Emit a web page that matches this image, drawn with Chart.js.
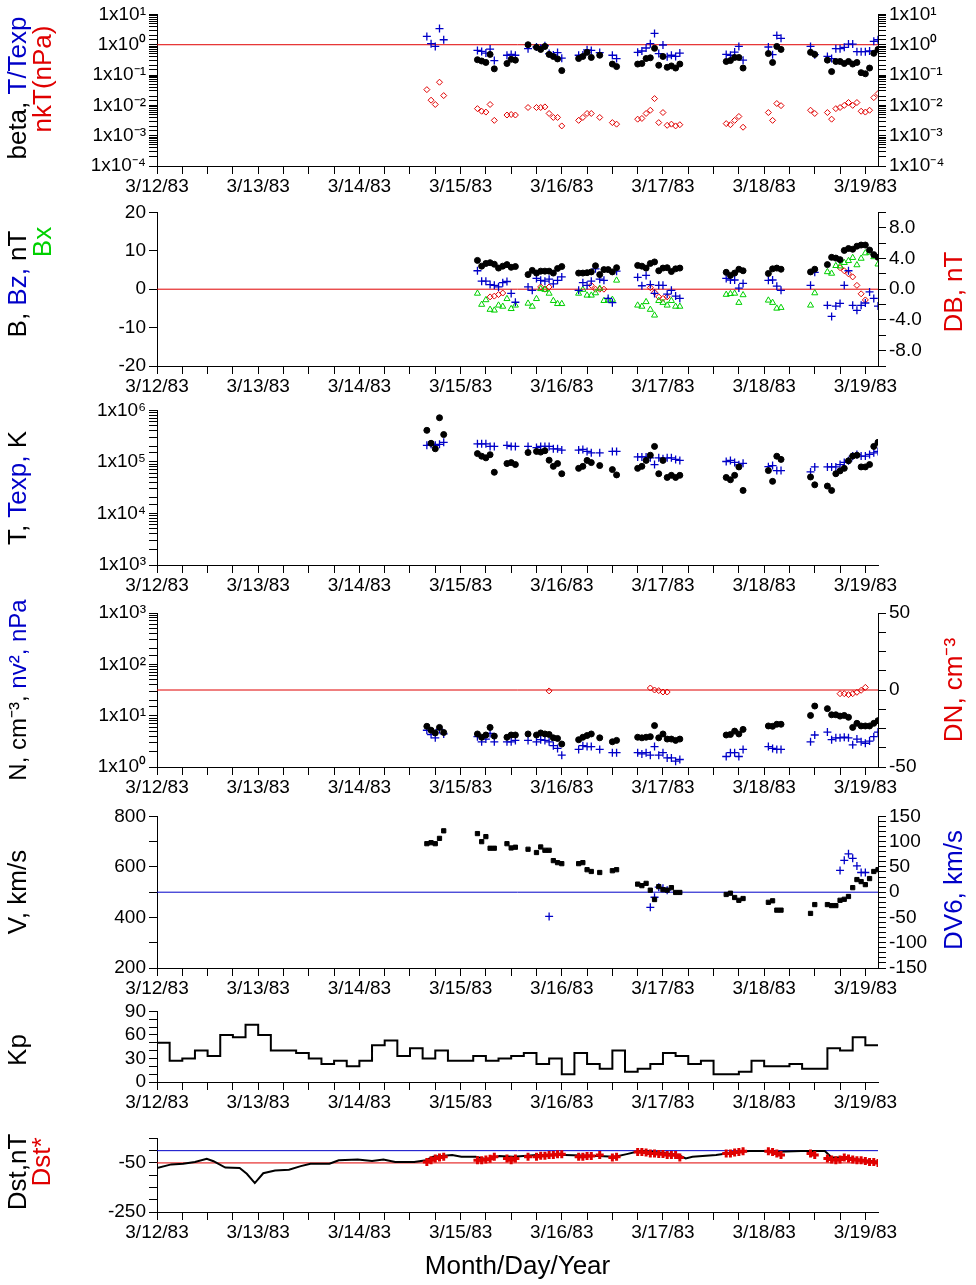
<!DOCTYPE html>
<html><head><meta charset="utf-8">
<script src="https://cdn.jsdelivr.net/npm/chart.js@4.4.1/dist/chart.umd.min.js"></script>
<style>body{margin:0;background:#fff;width:976px;height:1285px;position:relative;overflow:hidden}
.c{position:absolute;left:0}</style></head><body>
<script>
// ---- DATA (hours since 3/12/83 00:00) ----
const dayLabels=['3/12/83','3/13/83','3/14/83','3/15/83','3/16/83','3/17/83','3/18/83','3/19/83'];
const hoursA=[64,65,66,67,68,76,77,78,79,80,83,84,85,88,90,91,92,93,94,95,96,100,101,102,103,105,108,109,
114,115,116,117,118,119,120,121,122,123,124,135,136,137,138,139,145,146,147,148,155,156,
159,160,161,162,163,164,165,166,167,168,169,170,171];
const beta=[null,null,null,null,null,.32,.29,.26,.48,.16,.24,.33,.31,1.0,.82,.70,.88,.48,.41,.34,.14,.35,.41,.56,.38,.45,.23,.19,
.23,.24,.35,.37,.76,.21,.41,.18,.20,.17,.23,.28,.30,.38,.38,.17,.51,.26,.88,.70,.56,.48,
.31,.13,.28,.28,.24,.28,.23,.26,.12,.11,.17,.52,.70];
const tRatio=[1.88,1.08,.88,3.4,1.46,.65,.60,.53,.72,.30,.45,.48,.45,.74,.84,.76,.93,.51,.46,.55,.36,.45,.46,.68,.65,.55,.45,.35,
.56,.62,.78,1.08,2.36,.51,.98,.40,.45,.41,.53,.48,.45,.57,.88,.31,.84,.47,2.03,1.62,.88,.47,
.41,.35,.74,.74,.82,1.05,1.05,.59,.59,.59,.62,1.29,1.46];
const nkT=[.033,.0148,.0107,.058,.021,.0078,.0064,.0060,.0107,.0032,.0048,.0050,.0048,.0085,.0085,.0085,.0089,.0054,.0040,.0040,.0021,
.0032,.0040,.0054,.0054,.0040,.0027,.0024,.0035,.0037,.0054,.0069,.0167,.0027,.0058,.0022,.0024,.0021,.0023,
.0025,.0023,.0032,.0043,.0019,.0058,.0032,.0115,.0098,.0069,.0054,
.0058,.0035,.0078,.0085,.0100,.0124,.0100,.0124,.0064,.0060,.0069,.018,.0245];
const T=[4.1e5,2.3e5,1.8e5,7.2e5,3.4e5,1.45e5,1.29e5,1.2e5,1.38e5,6.3e4,9.3e4,9.7e4,8.9e4,1.52e5,1.6e5,1.55e5,1.65e5,1.08e5,8.2e4,9.3e4,5.9e4,
7.5e4,8.2e4,1.07e5,9.7e4,8.5e4,7.1e4,5.6e4,7.5e4,8.2e4,1.07e5,1.35e5,2e5,5.9e4,1.07e5,5e4,5.5e4,5e4,5.5e4,
5e4,4.5e4,5.5e4,8e4,2.8e4,6.8e4,4.2e4,1.29e5,1.12e5,5.1e4,3.6e4,
3.4e4,2.8e4,5.9e4,6.7e4,7.5e4,1.05e5,1.3e5,1.35e5,8e4,8e4,8.9e4,2e5,2.4e5];
const Texp=[2.1e5,2.2e5,2.1e5,2.2e5,2.4e5,2.25e5,2.25e5,2.25e5,2e5,2e5,2.1e5,2e5,2e5,2e5,1.9e5,2e5,2e5,2e5,1.8e5,1.8e5,1.7e5,
1.7e5,1.75e5,1.6e5,1.5e5,1.5e5,1.6e5,1.6e5,1.25e5,1.25e5,1.25e5,1.2e5,8.9e4,1.2e5,1.15e5,1.2e5,1.2e5,1.12e5,1.07e5,
1.02e5,1.07e5,9.8e4,8.8e4,9.4e4,8.1e4,8.5e4,6.8e4,6.8e4,6.4e4,8e4,
8e4,8e4,8e4,8.9e4,9.8e4,1.05e5,1.3e5,1.4e5,1.3e5,1.3e5,1.4e5,1.5e5,1.6e5];
const N=[6.2,5.2,4.6,5.9,4.7,4.4,3.8,4.2,5.9,4.0,3.8,4.2,4.2,4.4,4.2,4.6,4.4,4.3,3.7,3.6,2.8,3.4,3.8,4.1,4.4,3.7,3.1,3.3,
3.8,3.7,3.8,3.9,6.4,3.7,4.4,3.5,3.5,3.3,3.5,4.2,4.3,5.0,4.4,5.4,6.3,6.2,6.8,6.8,10.1,15.4,
13.7,10.4,10.4,9.8,10.1,9.3,5.9,7.1,6.3,6.3,6.3,7.1,8.0];
const nv2=[5.2,4.3,3.7,5.4,4.4,3.9,3.1,3.5,4.5,3.1,3.1,3.1,3.3,3.3,3.1,3.4,3.3,3.1,2.6,2.3,1.7,2.2,2.6,2.5,2.5,2.2,1.9,1.9,
1.9,1.8,1.9,1.7,2.5,1.7,1.9,1.5,1.5,1.3,1.4,1.6,1.9,1.9,1.6,2.2,2.5,2.3,2.2,2.2,3.1,4.2,
4.8,3.4,3.7,3.7,3.8,3.7,2.7,3.5,3.1,2.9,3.2,3.9,4.8];
const V=[692,696,692,713,743,732,700,720,674,674,692,675,678,670,657,679,666,666,625,617,613,613,617,589,582,578,585,589,
532,526,535,508,471,522,510,508,518,499,499,491,496,479,468,475,460,466,429,429,416,451,
451,447,447,468,472,483,518,550,542,530,554,582,589];
const dstStar=[-46,-39,-32,-28,-25,-39,-39,-36,-33,-25,-32,-39,-32,-25,-25,-21,-21,-18,-18,-15,-15,-25,-25,-22,-22,-18,-28,-25,
-5,-5,-7,-12,-12,-14,-14,-18,-18,-18,-28,-12,-12,-7,-5,-2,-2,-5,-12,-18,-12,-18,
-32,-36,-39,-36,-28,-32,-36,-39,-39,-42,-46,-46,-50];
const hoursB=[76,77,78,79,80,81,82,83,84,85,88,89,90,91,92,93,94,95,96,100,101,102,103,104,105,106,107,108,109,
114,115,116,117,118,119,120,121,122,123,124,135,136,137,138,139,145,146,147,148,155,156,
159,160,161,162,163,164,165,166,167,168,169,170,171];
const B=[7.5,6.0,6.7,6.9,6.5,5.5,6.0,6.4,5.7,5.9,3.8,4.9,4.2,4.7,4.7,4.7,4.2,5.4,5.9,4.2,4.2,4.3,4.5,6.1,3.8,5.1,5.1,4.5,5.6,
6.2,6.0,5.5,6.7,7.1,4.8,5.5,5.6,4.6,5.3,5.5,4.4,3.6,4.2,5.2,4.8,4.1,5.3,5.5,5.2,4.5,5.2,
6.4,8.3,8.1,7.7,10.1,10.6,10.4,11.2,11.5,11.5,10.2,9.0,8.3];
const Bz=[4.8,2.1,2.1,1.2,1.0,0.6,1.7,2.0,-1.1,-3.4,0.6,-0.3,2.8,2.3,2.1,2.6,1.4,2.3,3.2,-0.3,1.7,1.0,2.1,5.3,2.6,2.3,-2.4,-3.5,4.7,
3.1,0.9,3.6,1.2,-1.1,1.0,1.0,-1.3,-0.3,-1.8,-2.4,2.8,2.4,2.4,0.3,1.5,2.3,2.4,0.8,-0.3,1.0,4.4,
-4.2,-7.1,-4.4,-3.7,1.0,4.8,-4.2,-5.5,-4.2,-3.6,-0.7,-2.4,-4.4];
const Bx=[-1.1,-4.0,-2.8,-5.3,-5.5,-4.2,-4.5,-2.5,-5.1,-4.2,-3.7,-4.5,-2.5,0.1,-0.1,-1.1,-3.0,-3.8,-3.8,-1.1,-0.1,-1.6,-1.6,-1.0,0.2,-3.0,-2.9,-2.7,2.3,
-4.2,-4.5,-3.3,-5.3,-6.8,-3.0,-3.5,-4.2,-3.0,-4.5,-4.5,-1.4,-1.2,-1.1,-3.5,-1.5,-2.9,-3.5,-5.0,-4.8,-4.2,-1.0,
4.5,4.1,6.1,6.0,6.9,7.4,8.2,6.3,8.0,9.4,9.6,8.4,6.5];
const hoursDB=[79,80,81,82,91,92,93,103,104,105,106,117,118,119,120,121,162,163,164,165,166,167,168];
const DB=[-1.0,-0.9,-0.7,-0.5,0.3,0,0.3,0.5,0,0,0,0.2,-0.4,-1.0,-1.2,-1.0,2.8,2.4,2.0,1.6,0.5,-0.6,-1.4];
const hoursD=[93,117,118,119,120,121,162,163,164,165,166,167,168];
const DN=[-0.6,1.3,0,-0.4,-1.3,-1.3,-2.4,-2.4,-3.0,-2.4,-1.5,-0.2,1.7];
const DV6=[-48,-30,-10,10,8,4,43,63,76,67,52,39,39];
const kpHours=[0,3,6,9,12,15,18,21,24,27,30,33,36,39,42,45,48,51,54,57,60,63,66,69,72,75,78,81,84,87,90,93,96,99,102,105,108,111,114,117,120,123,126,129,132,135,138,141,144,147,150,153,156,159,162,165,168,171];
const Kp=[50,27,30,40,33,60,57,73,60,40,40,37,30,23,27,20,27,47,53,33,43,30,40,27,27,33,27,30,33,37,23,30,10,37,23,17,40,13,17,23,37,33,23,27,10,10,13,27,20,20,23,17,17,43,40,57,47,47];
const dstHours=[0,3.4,6.2,9,11.8,13.4,16.2,19.6,21.3,23.2,25.2,28,31.3,34.1,36.4,40.9,43.1,47.6,51,53.7,56.5,61,63.8,65.5,70,72.2,75.6,78.4,81.2,84.5,90.1,96.8,104.6,108.6,111.4,114.7,119.2,123.7,125.4,127,132.6,137.1,140.5,143.8,147.2,152.8,156.1,158.4,160,164,167.3,171.2];
const Dst=[-71,-56,-53,-46,-33,-43,-69,-71,-94,-132,-92,-81,-78,-63,-53,-53,-39,-36,-42,-36,-46,-46,-39,-25,-18,-25,-25,-36,-22,-25,-18,-18,-22,-25,-14,0,-7,-18,-32,-25,-18,-6,-1,-1,-4,-1,-1,-1,-28,-28,-39,-46];

// ---- helpers ----
const FONT='"Liberation Sans", Arial, sans-serif';
const BLUE='#0000c8', RED='#e00000', GREEN='#00d000';
const X_MAX=171;
const TF=19;
Chart.defaults.font.family=FONT;
Chart.defaults.color='#000';
const pts=(xs,ys)=>xs.map((x,i)=>({x,y:ys[i]}));
const hline=(y,color,axis)=>({type:'line',data:[{x:0,y},{x:X_MAX,y}],borderColor:color,borderWidth:1,pointRadius:0,yAxisID:axis||'y',order:10});
const SUP={'-':'⁻','0':'⁰','1':'¹','2':'²','3':'³','4':'⁴','5':'⁵','6':'⁶','7':'⁷','8':'⁸','9':'⁹'};
const pow10=v=>{const e=Math.log10(v);if(Math.abs(e-Math.round(e))<1e-6)return '1x10'+String(Math.round(e)).split('').map(c=>SUP[c]).join('');return '';};
const isMul=(v,m)=>Math.abs(v/m-Math.round(v/m))<1e-6;
const gridOpt={drawOnChartArea:false,drawTicks:true,tickLength:8,color:'#000'};
function xScale(h){return {type:'linear',min:0,max:X_MAX,
 afterBuildTicks:s=>{const t=[];for(let v=0;v<=X_MAX;v+=6)t.push({value:v});s.ticks=t;},
 afterFit:s=>{s.height=h||40;},grid:gridOpt,border:{color:'#000'},
 ticks:{autoSkip:false,maxRotation:0,stepSize:6,padding:1,font:{size:TF},callback:v=>isMul(v,24)?dayLabels[Math.round(v/24)]:''}};}
function yScale(o){const s={type:o.log?'logarithmic':'linear',position:o.pos||'left',min:o.min,max:o.max,
 afterFit:sc=>{sc.width=(o.pos==='right')?98:157;},grid:gridOpt,border:{color:'#000'},
 ticks:{autoSkip:false,padding:3,font:{size:TF},callback:o.cb||(v=>v)}};
 if(!o.log)s.ticks.stepSize=o.step;
 return s;}
const vt={id:'vt',afterDraw(chart,args,opts){const ctx=chart.ctx;(opts.items||[]).forEach(it=>{ctx.save();
 ctx.font=(it.size||26)+'px '+FONT;const w=it.segs.reduce((a,s)=>a+ctx.measureText(s[0]).width,0);
 ctx.translate(it.x,it.y-opts.offset);ctx.rotate(-Math.PI/2);ctx.textBaseline='middle';let p=-w/2;
 it.segs.forEach(s=>{ctx.fillStyle=s[1];ctx.fillText(s[0],p,0);p+=ctx.measureText(s[0]).width;});ctx.restore();});}};
const PAD=14;
function mk(top,bot,datasets,scales,items,hasRight,xh,padTop){
 const P=padTop||PAD;const xH=xh||40;const ct=top-P;const h=bot-top+P+xH;
 const cv=document.createElement('canvas');cv.className='c';cv.width=976;cv.height=h;
 cv.style.top=ct+'px';cv.style.width='976px';cv.style.height=h+'px';document.body.appendChild(cv);
 scales.x=xScale(xH);
 return new Chart(cv,{type:'scatter',data:{datasets},options:{responsive:false,animation:false,devicePixelRatio:1,
  layout:{padding:{top:P,right:hasRight?0:98,left:0,bottom:0}},scales,
  plugins:{legend:{display:false},tooltip:{enabled:false},vt:{offset:ct,items}}},plugins:[vt]});}
const dot={pointStyle:'circle',pointRadius:3,backgroundColor:'#000',borderColor:'#000',borderWidth:1};
const crs={pointStyle:'cross',pointRadius:4,borderColor:BLUE,borderWidth:1.3};
const dia={pointStyle:'rectRot',pointRadius:3,borderColor:RED,backgroundColor:'rgba(0,0,0,0)',borderWidth:1};
const logY=(min,max,pos)=>yScale({log:true,min,max,pos,cb:pow10});

// Panel 1
mk(14,166,[
 {data:pts(hoursA,beta),...dot},{data:pts(hoursA,tRatio),...crs},{data:pts(hoursA,nkT),...dia},hline(1,RED)],
 {y:logY(1e-4,10),y2:logY(1e-4,10,'right')},
 [{x:19,y:88,segs:[['beta, ','#000'],['T/Texp',BLUE]]},{x:44,y:79,segs:[['nkT(nPa)',RED]]}],true);
// Panel 2
mk(212,366,[
 {data:pts(hoursB,B),...dot},{data:pts(hoursB,Bz),...crs},
 {data:pts(hoursB,Bx),pointStyle:'triangle',pointRadius:3.5,borderColor:GREEN,backgroundColor:'rgba(0,0,0,0)',borderWidth:1},
 {data:pts(hoursDB,DB),...dia,yAxisID:'y2'},hline(0,RED)],
 {y:yScale({min:-20,max:20,step:10}),y2:yScale({min:-10,max:10,step:2,pos:'right',cb:v=>(isMul(v,4)&&Math.abs(v)<10)?v.toFixed(1):''})},
 [{x:19,y:284,segs:[['B, ','#000'],['Bz, ',BLUE],['nT','#000']]},{x:44,y:242,segs:[['Bx',GREEN]]},{x:955,y:292,segs:[['DB, nT',RED]]}],true);
// Panel 3
mk(410,565,[{data:pts(hoursA,T),...dot},{data:pts(hoursA,Texp),...crs}],
 {y:logY(1e3,1e6)},
 [{x:19,y:488,segs:[['T, ','#000'],['Texp, ',BLUE],['K','#000']]}],false);
// Panel 4
mk(613,767,[{data:pts(hoursA,N),...dot},{data:pts(hoursA,nv2),...crs},{data:pts(hoursD,DN),...dia,yAxisID:'y2'},hline(0,RED,'y2')],
 {y:logY(1,1e3),y2:yScale({min:-50,max:50,step:12.5,pos:'right',cb:v=>isMul(v,50)?v:''})},
 [{x:19,y:690,size:24,segs:[['N, cm⁻³, ','#000'],['nv², nPa',BLUE]]},{x:955,y:690,segs:[['DN, cm⁻³',RED]]}],true,40,24);
// Panel 5
mk(816,968,[{data:pts(hoursA,V),pointStyle:'rect',pointRadius:3,backgroundColor:'#000',borderColor:'#000'},
 {data:pts(hoursD,DV6),...crs,yAxisID:'y2'},hline(0,BLUE,'y2')],
 {y:yScale({min:200,max:800,step:100,cb:v=>isMul(v,200)?v:''}),y2:yScale({min:-150,max:150,step:10,pos:'right',cb:v=>isMul(v,50)?v:''})},
 [{x:19,y:892,segs:[['V, km/s','#000']]},{x:955,y:890,segs:[['DV6, km/s',BLUE]]}],true);
// Panel 6 Kp
mk(1011,1082,[{type:'line',data:pts(kpHours,Kp),stepped:'before',borderColor:'#000',borderWidth:2,pointRadius:0}],
 {y:yScale({min:0,max:90,step:10,cb:v=>isMul(v,30)?v:''})},
 [{x:19,y:1050,segs:[['Kp','#000']]}],false);
// Panel 7 Dst
const c7=mk(1138,1212,[
 {data:pts(hoursA,dstStar),pointStyle:'cross',pointRadius:4,borderColor:RED,borderWidth:3},
 {type:'line',data:pts(dstHours,Dst),borderColor:'#000',borderWidth:2,pointRadius:0},
 hline(0,BLUE),hline(-50,RED)],
 {y:yScale({min:-250,max:50,step:50,cb:v=>(v===-50||v===-250)?v:''})},
 [{x:19,y:1172,segs:[['Dst,nT','#000']]},{x:43,y:1162,segs:[['Dst*',RED]]}],false,70);
c7.options.scales.x.title={display:true,text:'Month/Day/Year',font:{size:26},padding:{top:0,bottom:0}};
c7.update();
</script></body></html>
